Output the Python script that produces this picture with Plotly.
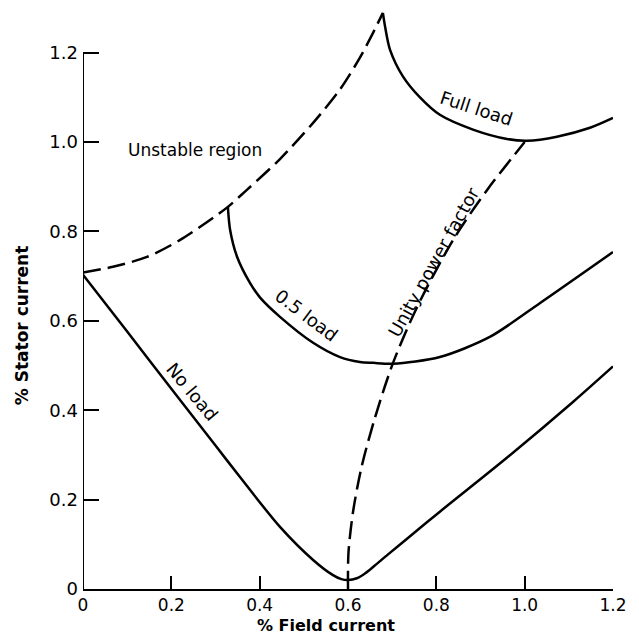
import plotly.graph_objects as go

# ---- data ----
no_load_x = [0, 0.1, 0.2, 0.3, 0.355, 0.446, 0.521, 0.566, 0.585, 0.6, 0.62, 0.64, 0.66, 0.69, 0.733, 0.808, 0.959, 1.11, 1.2]
no_load_y = [0.703, 0.576, 0.448, 0.321, 0.251, 0.139, 0.065, 0.031, 0.022, 0.02, 0.024, 0.036, 0.052, 0.077, 0.112, 0.173, 0.293, 0.419, 0.498]

unstable_x = [0, 0.068, 0.145, 0.22, 0.294, 0.328, 0.371, 0.446, 0.521, 0.582, 0.627, 0.657, 0.679]
unstable_y = [0.708, 0.721, 0.743, 0.781, 0.83, 0.855, 0.893, 0.962, 1.043, 1.118, 1.189, 1.245, 1.289]

full_load_x = [0.679, 0.684, 0.695, 0.725, 0.763, 0.808, 0.883, 0.96, 1.005, 1.073, 1.148, 1.2]
full_load_y = [1.289, 1.258, 1.207, 1.146, 1.1, 1.061, 1.028, 1.007, 1.003, 1.012, 1.032, 1.054]

half_load_x = [0.328, 0.333, 0.349, 0.378, 0.401, 0.446, 0.521, 0.582, 0.627, 0.657, 0.702, 0.808, 0.921, 1.035, 1.2]
half_load_y = [0.855, 0.804, 0.743, 0.685, 0.652, 0.609, 0.551, 0.519, 0.508, 0.506, 0.504, 0.519, 0.564, 0.64, 0.754]

unity_pf_x = [0.6, 0.601, 0.611, 0.63, 0.66, 0.702, 0.756, 0.838, 0.915, 1.0]
unity_pf_y = [0.0, 0.08, 0.17, 0.27, 0.38, 0.506, 0.63, 0.781, 0.893, 1.0]

tick_vals = [0, 0.2, 0.4, 0.6, 0.8, 1.0, 1.2]
tick_text = ["0", "0.2", "0.4", "0.6", "0.8", "1.0", "1.2"]

labels = [
    ("Unstable region", 0.254, 0.983, 0, 17),
    ("Full load", 0.892, 1.076, 18, 18),
    ("Unity power factor", 0.795, 0.732, -61, 18),
    ("0.5 load", 0.507, 0.612, 37, 18),
    ("No load", 0.247, 0.442, 50, 18),
]

FONT = "DejaVu Sans"
fig = go.Figure()

solid = dict(color="black", width=2.5, shape="spline", smoothing=0.8)
dashed = dict(color="black", width=2.5, shape="spline", smoothing=0.8, dash="18px,7px")

fig.add_trace(go.Scatter(x=no_load_x, y=no_load_y, mode="lines", line=solid, name="No load"))
fig.add_trace(go.Scatter(x=unstable_x, y=unstable_y, mode="lines", line=dashed, name="Unstable boundary"))
fig.add_trace(go.Scatter(x=full_load_x, y=full_load_y, mode="lines", line=solid, name="Full load"))
fig.add_trace(go.Scatter(x=half_load_x, y=half_load_y, mode="lines", line=solid, name="0.5 load"))
fig.add_trace(go.Scatter(x=unity_pf_x, y=unity_pf_y, mode="lines", line=dashed, name="Unity power factor"))

for text, x, y, ang, sz in labels:
    fig.add_annotation(x=x, y=y, xref="x", yref="y", text=text, showarrow=False,
                       textangle=ang, xanchor="center", yanchor="middle",
                       font=dict(family=FONT, size=sz, color="black"))

# axis titles
fig.add_annotation(x=0.4585, y=-0.0447, xref="paper", yref="paper", text="% Field current",
                   showarrow=False, xanchor="center", yanchor="top", borderpad=0,
                   font=dict(family=FONT, size=16, color="black", weight="bold"))
fig.add_annotation(x=-0.115, y=0.454, xref="paper", yref="paper", text="% Stator current",
                   showarrow=False, textangle=-90, xanchor="center", yanchor="middle",
                   font=dict(family=FONT, size=17, color="black", weight="bold"))

# y axis line only up to 1.2
fig.add_shape(type="line", xref="x", yref="y", x0=0, x1=0, y0=0, y1=1.2,
              line=dict(color="black", width=2))

fig.update_xaxes(range=[0, 1.2], showgrid=False, zeroline=False, showline=True,
                 linecolor="black", linewidth=2, ticks="inside", ticklen=13, tickwidth=2,
                 tickcolor="black", tickvals=tick_vals, ticktext=tick_text,
                 ticklabelstandoff=0,
                 tickfont=dict(family=FONT, size=17, color="black"))
fig.update_yaxes(range=[0, 1.3], showgrid=False, zeroline=False, showline=False,
                 ticks="inside", ticklen=16, tickwidth=2, tickcolor="black",
                 tickvals=tick_vals, ticktext=tick_text, ticklabelstandoff=4,
                 tickfont=dict(family=FONT, size=18, color="black"))

# the page body adds an 8px offset, so the margins are reduced by that amount
fig.update_layout(width=631, height=626, margin=dict(l=75, r=26, t=0, b=45),
                  plot_bgcolor="white", paper_bgcolor="white", showlegend=False)

fig.write_html("out.html")
